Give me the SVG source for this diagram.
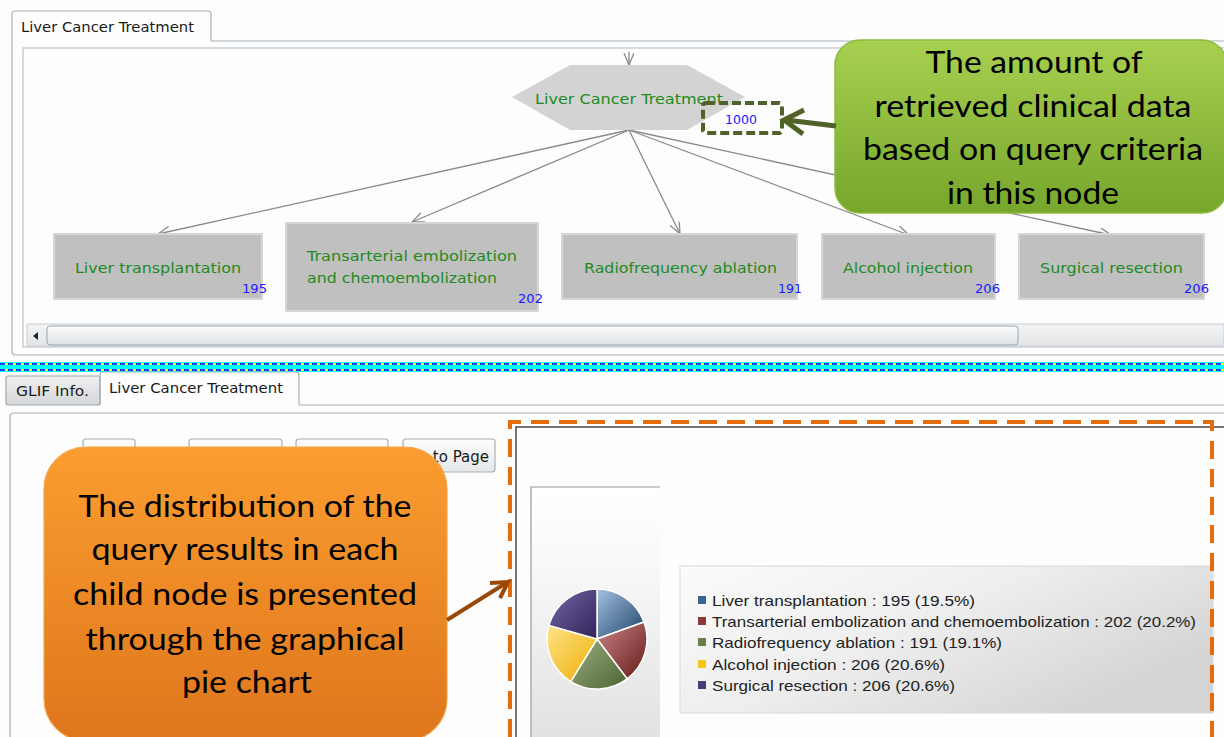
<svg xmlns="http://www.w3.org/2000/svg" width="1224" height="737" viewBox="0 0 1224 737">
  <style>
    .ui { font-family: "DejaVu Sans", Verdana, sans-serif; }
    .tabtxt { font-family: "DejaVu Sans", Verdana, sans-serif; font-size: 14px; fill: #1a1a1a; }
    .lbl { font-family: "DejaVu Sans", Verdana, sans-serif; font-size: 14px; fill: #1f8a1f; }
    .num { font-family: "DejaVu Sans", Verdana, sans-serif; font-size: 13px; fill: #1a1aff; }
    .node rect { fill: #c0c0c0; stroke: #d6d6d6; stroke-width: 2; }
    .edge { fill: none; stroke: #8a8a8a; stroke-width: 1.3; marker-end: url(#ah); }
    .border { fill: none; stroke: #a6b0ba; stroke-width: 1.2; }
    .btn { fill: url(#btnGrad); stroke: #a8b0b8; stroke-width: 1.2; }
    .callout { font-family: Lato, "Open Sans", sans-serif; font-size: 31px; fill: #000; text-anchor: middle; }
    .legend { font-family: "Liberation Sans", Arial, sans-serif; font-size: 15px; fill: #222; }
    .slice { stroke: #ffffff; stroke-width: 1.5; }
  </style>
  <defs>
    <marker id="ah" markerWidth="14" markerHeight="12" refX="12" refY="5" orient="auto" markerUnits="userSpaceOnUse">
      <path d="M0,0 L12,5 L0,10" fill="none" stroke="#8a8a8a" stroke-width="1.3"/>
    </marker>
    <linearGradient id="greenGrad" x1="0" y1="0" x2="0" y2="1">
      <stop offset="0" stop-color="#a8d050"/>
      <stop offset="1" stop-color="#76a62c"/>
    </linearGradient>
    <linearGradient id="orangeGrad" x1="0" y1="0" x2="0" y2="1">
      <stop offset="0" stop-color="#fb9d30"/>
      <stop offset="1" stop-color="#de761c"/>
    </linearGradient>
    <linearGradient id="btnGrad" x1="0" y1="0" x2="0" y2="1">
      <stop offset="0" stop-color="#fdfdfd"/>
      <stop offset="1" stop-color="#e4e6e8"/>
    </linearGradient>
    <linearGradient id="tabGray" x1="0" y1="0" x2="0" y2="1">
      <stop offset="0" stop-color="#f0f0f0"/>
      <stop offset="1" stop-color="#d4d6d8"/>
    </linearGradient>
    <linearGradient id="trackGrad" x1="0" y1="0" x2="0" y2="1">
      <stop offset="0" stop-color="#f2f3f4"/>
      <stop offset="1" stop-color="#e2e4e6"/>
    </linearGradient>
    <linearGradient id="thumbGrad" x1="0" y1="0" x2="0" y2="1">
      <stop offset="0" stop-color="#fbfbfb"/>
      <stop offset="1" stop-color="#dfe2e5"/>
    </linearGradient>
    <linearGradient id="chartBg" x1="0" y1="0" x2="0" y2="1">
      <stop offset="0" stop-color="#ffffff"/>
      <stop offset="0.25" stop-color="#fafafa"/>
      <stop offset="1" stop-color="#e2e2e2"/>
    </linearGradient>
    <linearGradient id="legendBg" x1="0" y1="0" x2="1" y2="0.6">
      <stop offset="0" stop-color="#fbfbfb"/>
      <stop offset="0.5" stop-color="#eeeeee"/>
      <stop offset="1" stop-color="#d4d4d4"/>
    </linearGradient>
    <linearGradient id="sBlue" x1="0" y1="0" x2="1" y2="1">
      <stop offset="0" stop-color="#a3c1e3"/>
      <stop offset="1" stop-color="#1e4266"/>
    </linearGradient>
    <linearGradient id="sRed" x1="0" y1="0" x2="1" y2="1">
      <stop offset="0" stop-color="#cc8585"/>
      <stop offset="1" stop-color="#661a1a"/>
    </linearGradient>
    <linearGradient id="sGreen" x1="0" y1="0" x2="1" y2="1">
      <stop offset="0" stop-color="#9eae84"/>
      <stop offset="1" stop-color="#4c6430"/>
    </linearGradient>
    <linearGradient id="sYellow" x1="0" y1="0" x2="1" y2="1">
      <stop offset="0" stop-color="#fde38a"/>
      <stop offset="1" stop-color="#efae00"/>
    </linearGradient>
    <linearGradient id="sPurple" x1="0" y1="0" x2="1" y2="1">
      <stop offset="0" stop-color="#7566a2"/>
      <stop offset="1" stop-color="#30245a"/>
    </linearGradient>
  </defs>

  <rect x="0" y="0" width="1224" height="737" fill="#fdfdfd"/>

  <!-- upper tab pane -->
  <g id="upper-pane">
    <path d="M12,41 L12,14 Q12,11 15,11 L208,11 Q211,11 211,14 L211,41" fill="#ffffff" class="border"/>
    <line x1="211" y1="41" x2="1224" y2="41" class="border"/>
    <path d="M12,41 L12,351 Q12,355 16,355 L1224,355" class="border"/>
    <text x="21" y="32" class="tabtxt" textLength="173" lengthAdjust="spacingAndGlyphs">Liver Cancer Treatment</text>
    <rect x="23" y="48" width="1210" height="299" fill="#fdfdfd" stroke="#bcc4cc" stroke-width="1.2"/>
    <rect x="27" y="324" width="1197" height="22" fill="url(#trackGrad)" stroke="#c8ced4" stroke-width="1"/>
    <polygon points="33,336 38,332 38,340" fill="#222"/>
    <rect x="47" y="326" width="971" height="19" rx="3" fill="url(#thumbGrad)" stroke="#9aa4ae" stroke-width="1"/>
  </g>

  <!-- connectors -->
  <g id="connectors">
    <line x1="629" y1="52" x2="629" y2="65" class="edge"/>
    <line x1="629" y1="130" x2="158" y2="234" class="edge"/>
    <line x1="629" y1="130" x2="412" y2="222" class="edge"/>
    <line x1="629" y1="130" x2="680" y2="234" class="edge"/>
    <line x1="629" y1="130" x2="909" y2="235" class="edge"/>
    <line x1="629" y1="130" x2="1111" y2="235" class="edge"/>
  </g>

  <!-- root node -->
  <g id="node-root">
    <polygon points="570,65 687,65 745,97 687,130 570,130 512,97" fill="#d3d3d3"/>
    <text x="535" y="104" class="lbl" textLength="188" lengthAdjust="spacingAndGlyphs">Liver Cancer Treatment</text>
    <rect x="703" y="103" width="79" height="30" rx="3" fill="none" stroke="#4f6228" stroke-width="4" stroke-dasharray="9 4"/>
    <text x="725" y="124" class="num" textLength="32" lengthAdjust="spacingAndGlyphs">1000</text>
  </g>

  <!-- child nodes -->
  <g id="node-transplant" class="node">
    <rect x="54" y="234" width="208" height="65"/>
    <text x="75" y="273" class="lbl" textLength="166" lengthAdjust="spacingAndGlyphs">Liver transplantation</text>
    <text x="242" y="293" class="num" textLength="25" lengthAdjust="spacingAndGlyphs">195</text>
  </g>
  <g id="node-tace" class="node">
    <rect x="286" y="223" width="252" height="88"/>
    <text x="307" y="261" class="lbl" textLength="210" lengthAdjust="spacingAndGlyphs">Transarterial embolization</text>
    <text x="307" y="283" class="lbl" textLength="190" lengthAdjust="spacingAndGlyphs">and chemoembolization</text>
    <text x="518" y="303" class="num" textLength="25" lengthAdjust="spacingAndGlyphs">202</text>
  </g>
  <g id="node-rfa" class="node">
    <rect x="562" y="234" width="235" height="65"/>
    <text x="584" y="273" class="lbl" textLength="193" lengthAdjust="spacingAndGlyphs">Radiofrequency ablation</text>
    <text x="778" y="293" class="num" textLength="24" lengthAdjust="spacingAndGlyphs">191</text>
  </g>
  <g id="node-alcohol" class="node">
    <rect x="822" y="234" width="173" height="65"/>
    <text x="843" y="273" class="lbl" textLength="130" lengthAdjust="spacingAndGlyphs">Alcohol injection</text>
    <text x="975" y="293" class="num" textLength="25" lengthAdjust="spacingAndGlyphs">206</text>
  </g>
  <g id="node-resection" class="node">
    <rect x="1019" y="234" width="185" height="65"/>
    <text x="1040" y="273" class="lbl" textLength="143" lengthAdjust="spacingAndGlyphs">Surgical resection</text>
    <text x="1184" y="293" class="num" textLength="25" lengthAdjust="spacingAndGlyphs">206</text>
  </g>

  <!-- green callout -->
  <g id="callout-amount">
    <rect x="835" y="40" width="392" height="173" rx="25" fill="url(#greenGrad)" stroke="#8cbc3e" stroke-width="1.5"/>
    <text x="1034" y="73" class="callout" textLength="217" lengthAdjust="spacingAndGlyphs">The amount of</text>
    <text x="1033" y="117" class="callout" textLength="317" lengthAdjust="spacingAndGlyphs">retrieved clinical data</text>
    <text x="1033" y="160" class="callout" textLength="340" lengthAdjust="spacingAndGlyphs">based on query criteria</text>
    <text x="1033" y="204" class="callout" textLength="172" lengthAdjust="spacingAndGlyphs">in this node</text>
    <path d="M836,126 L786,120" stroke="#4f6228" stroke-width="5" fill="none"/>
    <path d="M804,110 L784,120 L803,134" stroke="#4f6228" stroke-width="5" fill="none" stroke-linejoin="miter"/>
  </g>

  <!-- splitter -->
  <g id="splitter">
    <rect x="0" y="362" width="1224" height="10" fill="#00ffff"/>
    <line x1="0" y1="364" x2="1224" y2="364" stroke="#ffff00" stroke-width="2"/>
    <line x1="0" y1="364" x2="1224" y2="364" stroke="#2040ff" stroke-width="2" stroke-dasharray="5 3"/>
    <line x1="0" y1="370" x2="1224" y2="370" stroke="#ffff00" stroke-width="2"/>
    <line x1="0" y1="370" x2="1224" y2="370" stroke="#2040ff" stroke-width="2" stroke-dasharray="5 3"/>
  </g>

  <!-- lower tab pane -->
  <g id="lower-pane">
    <rect x="6" y="376" width="94" height="29" rx="2" fill="url(#tabGray)" stroke="#9ca6b0" stroke-width="1.2"/>
    <text x="16" y="396" class="tabtxt" textLength="73" lengthAdjust="spacingAndGlyphs">GLIF Info.</text>
    <path d="M100,405 L100,375 Q100,372 103,372 L296,372 Q299,372 299,375 L299,405" fill="#ffffff" class="border"/>
    <text x="109" y="393" class="tabtxt" textLength="174" lengthAdjust="spacingAndGlyphs">Liver Cancer Treatment</text>
    <line x1="299" y1="405" x2="1224" y2="405" class="border"/>
    <path d="M10,737 L10,417 Q10,413 14,413 L1224,413" class="border"/>
    <rect x="83" y="439" width="52" height="33" rx="3" class="btn"/>
    <rect x="189" y="439" width="93" height="33" rx="3" class="btn"/>
    <rect x="296" y="439" width="92" height="33" rx="3" class="btn"/>
    <rect x="403" y="439" width="92" height="33" rx="3" class="btn"/>
    <text x="489" y="462" class="ui" font-size="15" fill="#1a1a1a" text-anchor="end">Go to Page</text>
  </g>

  <!-- chart area -->
  <g id="chart">
    <path d="M516,737 L516,427 L1224,427" fill="none" stroke="#4a4a4a" stroke-width="1.5"/>
    <rect x="531" y="487" width="129" height="250" fill="url(#chartBg)"/>
    <path d="M531,737 L531,487 L660,487" fill="none" stroke="#9a9a9a" stroke-width="1.2"/>
    <path class="slice" fill="url(#sBlue)" d="M597,639 L597,589 A50,50 0 0 1 644.05,622.07 Z"/>
    <path class="slice" fill="url(#sRed)" d="M597,639 L644.05,622.07 A50,50 0 0 1 627.16,678.88 Z"/>
    <path class="slice" fill="url(#sGreen)" d="M597,639 L627.16,678.88 A50,50 0 0 1 570.72,681.54 Z"/>
    <path class="slice" fill="url(#sYellow)" d="M597,639 L570.72,681.54 A50,50 0 0 1 548.89,625.39 Z"/>
    <path class="slice" fill="url(#sPurple)" d="M597,639 L548.89,625.39 A50,50 0 0 1 597,589 Z"/>
    <rect x="680" y="566" width="533" height="147" fill="url(#legendBg)" stroke="#dadada" stroke-width="1"/>
    <rect x="698" y="596" width="8" height="8" fill="#3a6590"/>
    <rect x="698" y="617" width="8" height="8" fill="#8b3a3a"/>
    <rect x="698" y="638" width="8" height="8" fill="#6b7d4a"/>
    <rect x="698" y="660" width="8" height="8" fill="#f5c518"/>
    <rect x="698" y="681" width="8" height="8" fill="#4a3c7a"/>
    <text x="712" y="606" class="legend" textLength="263" lengthAdjust="spacingAndGlyphs">Liver transplantation : 195 (19.5%)</text>
    <text x="712" y="627" class="legend" textLength="484" lengthAdjust="spacingAndGlyphs">Transarterial embolization and chemoembolization : 202 (20.2%)</text>
    <text x="712" y="648" class="legend" textLength="290" lengthAdjust="spacingAndGlyphs">Radiofrequency ablation : 191 (19.1%)</text>
    <text x="712" y="670" class="legend" textLength="233" lengthAdjust="spacingAndGlyphs">Alcohol injection : 206 (20.6%)</text>
    <text x="712" y="691" class="legend" textLength="243" lengthAdjust="spacingAndGlyphs">Surgical resection : 206 (20.6%)</text>
    <path d="M510,737 L510,422 L1212,422 L1212,737" fill="none" stroke="#e46c0a" stroke-width="4" stroke-dasharray="18 10"/>
  </g>

  <!-- orange callout -->
  <g id="callout-distribution">
    <rect x="44" y="447" width="403" height="294" rx="42" fill="url(#orangeGrad)" stroke="#f3a54a" stroke-width="1.2"/>
    <text x="245" y="517" class="callout" textLength="333" lengthAdjust="spacingAndGlyphs">The distribution of the</text>
    <text x="245" y="560" class="callout" textLength="307" lengthAdjust="spacingAndGlyphs">query results in each</text>
    <text x="245" y="605" class="callout" textLength="344" lengthAdjust="spacingAndGlyphs">child node is presented</text>
    <text x="245" y="650" class="callout" textLength="319" lengthAdjust="spacingAndGlyphs">through the graphical</text>
    <text x="247" y="693" class="callout" textLength="130" lengthAdjust="spacingAndGlyphs">pie chart</text>
    <path d="M447,620 L506,583" stroke="#984807" stroke-width="4" fill="none"/>
    <path d="M490,583 L508,582 L500,598" stroke="#984807" stroke-width="4" fill="none"/>
  </g>
</svg>
